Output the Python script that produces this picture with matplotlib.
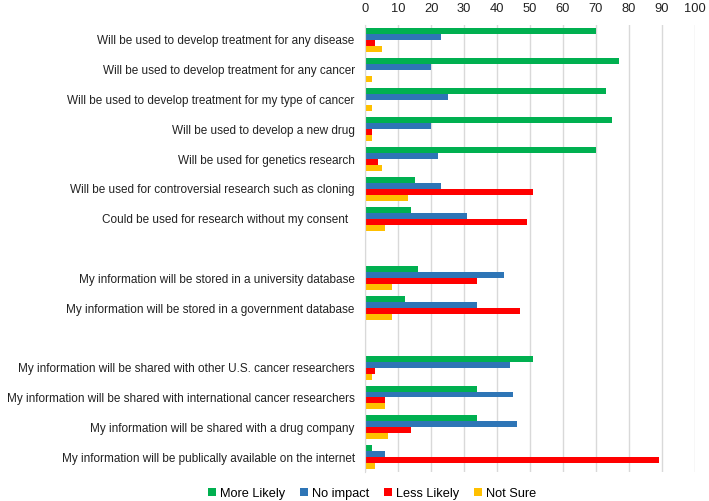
import numpy as np
import matplotlib
matplotlib.use("Agg")
import matplotlib.pyplot as plt

plt.rcParams['font.family'] = ['Liberation Sans', 'DejaVu Sans']

categories = [
    "Will be used to develop treatment for any disease",
    "Will be used to develop treatment for any cancer",
    "Will be used to develop treatment for my type of cancer",
    "Will be used to develop a new drug",
    "Will be used for genetics research",
    "Will be used for controversial research such as cloning",
    "Could be used for research without my consent  ",
    "",
    "My information will be stored in a university database",
    "My information will be stored in a government database",
    "",
    "My information will be shared with other U.S. cancer researchers",
    "My information will be shared with international cancer researchers",
    "My information will be shared with a drug company",
    "My information will be publically available on the internet",
]

more_likely = [70, 77, 73, 75, 70, 15, 14, 0, 16, 12, 0, 51, 34, 34, 2]
no_impact   = [23, 20, 25, 20, 22, 23, 31, 0, 42, 34, 0, 44, 45, 46, 6]
less_likely = [3, 0, 0, 2, 4, 51, 49, 0, 34, 47, 0, 3, 6, 14, 89]
not_sure    = [5, 2, 2, 2, 5, 13, 6, 0, 8, 8, 0, 2, 6, 7, 3]

series = [more_likely, no_impact, less_likely, not_sure]
names = ["More Likely", "No impact", "Less Likely", "Not Sure"]
colors = ['#00B050', '#2E75B6', '#FF0000', '#FFC000']

fig = plt.figure(figsize=(7.09, 5.01), dpi=100)
ax = fig.add_axes([0.515, 0.058, 0.465, 0.892])

y = np.arange(len(categories))
h = 0.2
for k in range(4):
    ax.barh(y - 0.3 + k * h, series[k], height=h, color=colors[k], label=names[k])

ax.set_ylim(len(categories) - 0.5, -0.5)
ax.set_xlim(0, 100)
ax.set_xticks(np.arange(0, 101, 10))
ax.xaxis.tick_top()
ax.set_yticks(y)
ax.set_yticklabels(categories, fontsize=8.5, color='#222222')
ax.tick_params(axis='y', length=0, pad=7.5)
ax.tick_params(axis='x', length=0, labelsize=9.3, colors='#222222', pad=7)

ax.grid(True, axis='x', color='#D9D9D9', linewidth=1)
ax.set_axisbelow(True)
for s in ['top', 'right', 'bottom']:
    ax.spines[s].set_visible(False)
ax.spines['left'].set_color('#D9D9D9')

fig.legend(loc='lower center', bbox_to_anchor=(0.525, -0.02), ncol=4, frameon=False,
           fontsize=9.2, handlelength=0.6, handleheight=0.6, handletextpad=0.3, columnspacing=1.2)

fig.savefig("out.png", dpi=100)
